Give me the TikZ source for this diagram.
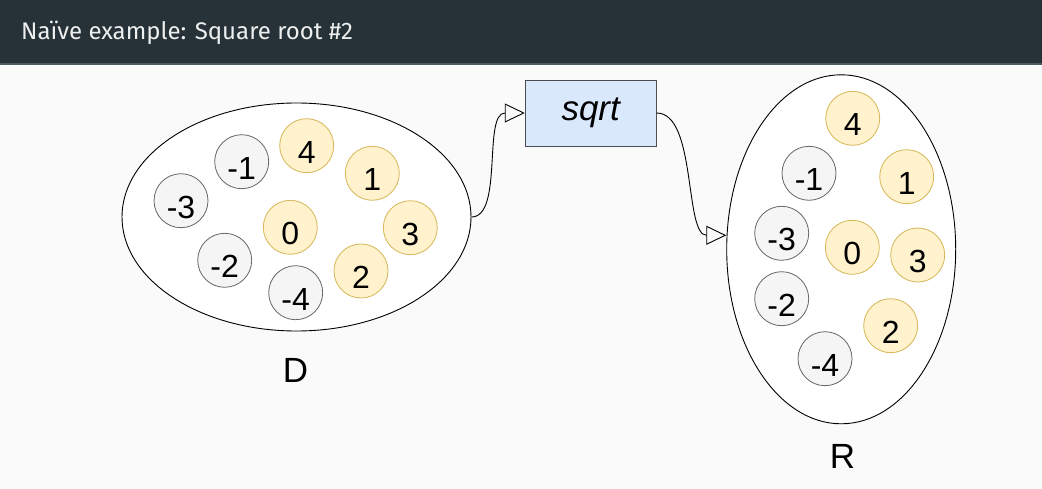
\documentclass[tikz,border=0pt]{standalone}
\usepackage{fontspec}
\setmainfont{Liberation Sans}
\newfontfamily\titlefont{Fira Sans}
\usetikzlibrary{shapes.geometric,arrows.meta}

\definecolor{barbg}{HTML}{263238}
\definecolor{barline}{HTML}{4A5A5F}
\definecolor{pagebg}{HTML}{FAFAFA}
\definecolor{negfill}{HTML}{F5F5F5}
\definecolor{negdraw}{HTML}{666666}
\definecolor{posfill}{HTML}{FFF2CC}
\definecolor{posdraw}{HTML}{D6B656}
\definecolor{fnfill}{HTML}{DAE8FC}
\definecolor{fndraw}{HTML}{4D4D4D}

\tikzset{
  setshape/.style={ellipse, draw=black, line width=0.9pt, fill=white, inner sep=0pt},
  numball/.style={circle, line width=0.8pt, inner sep=0pt, minimum size=54pt,
    font=\fontsize{32}{32}\selectfont, text height=35pt, text depth=0pt},
  negball/.style={numball, fill=negfill, draw=negdraw},
  posball/.style={numball, fill=posfill, draw=posdraw},
  fnbox/.style={rectangle, fill=fnfill, draw=fndraw, line width=0.9pt, inner sep=0pt,
    minimum width=131pt, minimum height=66pt, font=\fontsize{35}{35}\selectfont\itshape},
  setlabel/.style={font=\fontsize{35}{35}\selectfont, inner sep=0pt},
  flow/.style={draw=black, line width=0.9pt, -{Triangle[open,length=20pt,width=19pt]}}
}

\begin{document}
\begin{tikzpicture}[x=1pt, y=-1pt]
  % page and title bar
  \fill[pagebg] (0,0) rectangle (1042,489);
  \useasboundingbox (0,0) rectangle (1042,489);
  \fill[barbg] (0,0) rectangle (1042,64);
  \fill[barline] (0,63.5) rectangle (1042,65.5);
  \node[anchor=base west, inner sep=0pt, text=white!92!barbg,
        font=\titlefont\fontsize{24}{24}\selectfont] (title) at (21,39.5)
        {Naïve example: Square root \#2};

  % domain set D
  \node[setshape, minimum width=349pt, minimum height=228pt] (Dset) at (296.5,217) {};
  \node[negball] (dm1) at (241.7,161.7) {-1};
  \node[posball] (d4)  at (306.7,145.7) {4};
  \node[posball] (d1)  at (372.3,173.3) {1};
  \node[negball] (dm3) at (181,200.7) {-3};
  \node[posball] (d0)  at (290.3,227.3) {0};
  \node[posball] (d3)  at (410.3,227.7) {3};
  \node[negball] (dm2) at (224.7,260.3) {-2};
  \node[posball] (d2)  at (361,271) {2};
  \node[negball] (dm4) at (295.7,292.7) {-4};
  \node[setlabel] (Dlabel) at (295.5,370) {D};

  % function box
  \node[fnbox] (sq) at (590.7,113) {sqrt};

  % range set R
  \node[setshape, minimum width=229pt, minimum height=349pt] (Rset) at (841.2,249.3) {};
  \node[posball] (r4)  at (852.7,118.3) {4};
  \node[negball] (rm1) at (809,173.3) {-1};
  \node[posball] (r1)  at (906.7,176.7) {1};
  \node[negball] (rm3) at (781.7,233.3) {-3};
  \node[posball] (r0)  at (852.3,247.3) {0};
  \node[posball] (r3)  at (917.7,255) {3};
  \node[negball] (rm2) at (781.7,298.7) {-2};
  \node[posball] (r2)  at (890.7,325.7) {2};
  \node[negball] (rm4) at (825,358.7) {-4};
  \node[setlabel] (Rlabel) at (842.5,456) {R};

  % connectors
  \coordinate (Rin) at ([yshift=14pt]Rset.west);
  \draw[flow] (Dset.east) .. controls +(32,0) and +(-42,0) .. (sq.west);
  \draw[flow] (sq.east) .. controls +(40,0) and +(-42,0) .. (Rin);
\end{tikzpicture}
\end{document}
